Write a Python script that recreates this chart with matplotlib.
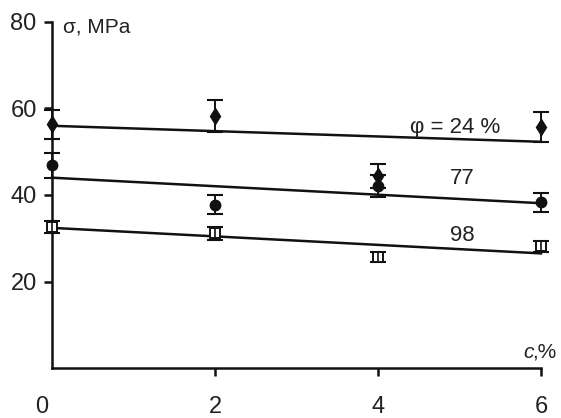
import matplotlib.pyplot as plt
import matplotlib.transforms as mtransforms

plt.rcParams['font.family'] = ['Liberation Sans', 'DejaVu Sans']

# carbon content, %
c = [0, 2, 4, 6]

# strength for each porosity, MPa
sigma_24 = [56.3, 58.3, 44.4, 55.8]
err_24 = [3.4, 3.7, 2.8, 3.5]
sigma_77 = [46.9, 37.7, 42.1, 38.3]
err_77 = [2.9, 2.2, 2.5, 2.2]
sigma_98 = [32.7, 31.1, 25.7, 28.1]
err_98 = [1.4, 1.4, 1.2, 1.2]

# fitted lines (values at c = 0 and c = 6)
fit_c = [0, 6]
fit_24 = [56.0, 52.3]
fit_77 = [44.0, 38.1]
fit_98 = [32.4, 26.5]

x_ticks = [0, 2, 4, 6]
y_ticks = [20, 40, 60, 80]

fig = plt.figure(figsize=(5.61, 4.18), dpi=100, facecolor='w')
ax = fig.add_axes([0.0927, 0.1196, 0.8716, 0.8278])

ink = '#111111'
eb = dict(fmt='none', ecolor=ink, elinewidth=1.4, capsize=6, capthick=1.5, clip_on=False)

# regression lines
for fit in (fit_24, fit_77, fit_98):
	ax.plot(fit_c, fit, '-', color=ink, lw=1.8, clip_on=False, zorder=2)

# error bars
ax.errorbar(c, sigma_24, yerr=err_24, **eb)
ax.errorbar(c, sigma_77, yerr=err_77, **eb)
ax.errorbar(c, sigma_98, yerr=err_98, **eb)

# markers
ax.plot(c, sigma_77, 'o', color=ink, ms=7.5, clip_on=False, zorder=4)
ax.plot(c, sigma_24, 'd', color=ink, ms=8.5, clip_on=False, zorder=5)
ax.plot(c, sigma_98, 's', mfc='w', mec=ink, mew=1.4, ms=7, clip_on=False, zorder=4)
ax.plot(c, sigma_98, '|', color=ink, mew=1.2, ms=6, clip_on=False, zorder=5)

# curve labels
ax.text(4.95, 55.7, 'φ = 24 %', ha='center', va='center', fontsize=16, color='#222')
ax.text(5.04, 43.9, '77', ha='center', va='center', fontsize=16, color='#222')
ax.text(5.03, 30.7, '98', ha='center', va='center', fontsize=16, color='#222')

# axis titles
ax.text(0.13, 78.8, 'σ, MPa', ha='left', va='center', fontsize=15, color='#222')
ax.text(5.78, 3.7, 'c', ha='left', va='center', fontsize=15, style='italic', color='#222', clip_on=False)
ax.text(5.89, 3.7, ',%', ha='left', va='center', fontsize=15, color='#222', clip_on=False)

ax.set_xlim(0, 6)
ax.set_ylim(0, 80)
ax.set_xticks(x_ticks)
ax.set_yticks(y_ticks)
ax.set_xticklabels([str(v) for v in x_ticks])
ax.set_yticklabels([str(v) for v in y_ticks])

for side in ('top', 'right'):
	ax.spines[side].set_visible(False)
for side in ('left', 'bottom'):
	ax.spines[side].set_linewidth(1.8)
	ax.spines[side].set_color(ink)

ax.tick_params(axis='x', direction='out', length=6, width=1.8, pad=14, labelsize=17, colors=ink, labelcolor='#222')
ax.tick_params(axis='y', direction='out', length=6, width=1.8, pad=5, labelsize=17, colors=ink, labelcolor='#222')

# shift the "0" label a bit to the left, as in the original
shift = mtransforms.ScaledTranslation(-10 / 100, 0, fig.dpi_scale_trans)
lbl0 = ax.get_xticklabels()[0]
lbl0.set_transform(lbl0.get_transform() + shift)
ax.xaxis.get_major_ticks()[0].tick1line.set_visible(False)

fig.savefig('out.png', dpi=100, facecolor='w')
